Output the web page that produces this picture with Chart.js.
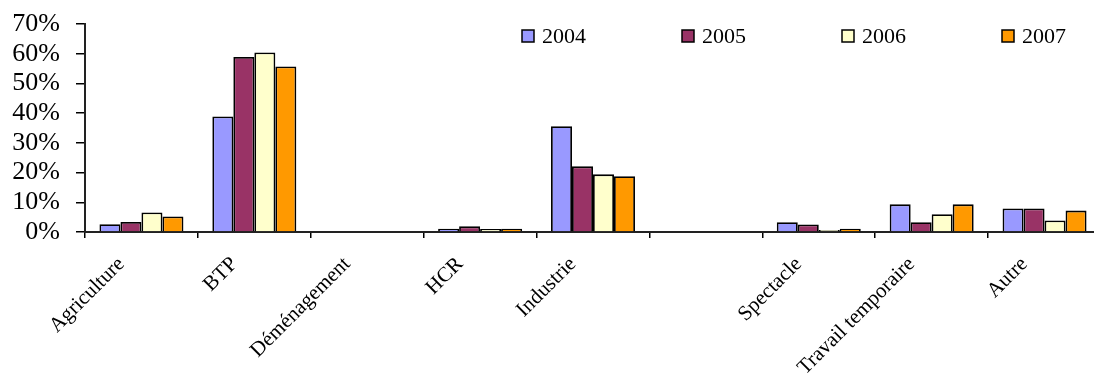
<!DOCTYPE html>
<html>
<head>
<meta charset="utf-8">
<script src="https://cdn.jsdelivr.net/npm/chart.js@4"></script>
<style>
  html, body { margin: 0; padding: 0; background: #fff; overflow: hidden; }
  /* le graphique original est coupé à droite : la zone dépasse la fenêtre */
  .wrap { width: 1101px; height: 378px; }
</style>
</head>
<body>
<div class="wrap"><canvas id="myChart"></canvas></div>
<script>
'use strict';
// catégories (la 6e n'a pas de libellé)
const categories = ['Agriculture', 'BTP', 'Déménagement', 'HCR', 'Industrie', '', 'Spectacle', 'Travail temporaire', 'Autre'];
// années
const years = ['2004', '2005', '2006', '2007'];
// parts en %
const v2004 = [2.6, 38.9, 0, 1.1, 35.6, 0, 3.3, 9.3, 7.9];
const v2005 = [3.4, 58.9, 0, 1.9, 22.1, 0, 2.5, 3.3, 7.9];
const v2006 = [6.6, 60.4, 0, 1.0, 19.4, 0, 0.7, 6.0, 3.9];
const v2007 = [5.2, 55.7, 0, 1.1, 18.8, 0, 1.1, 9.3, 7.2];
// graduations de l'axe Y
const yTicks = [0, 10, 20, 30, 40, 50, 60, 70];

const colors = ['#9999FF', '#993366', '#FFFFCC', '#FF9900'];
const font = 'Liberation Serif';

// légende dessinée à la main, en haut à droite de la zone du graphique
const legendPlugin = {
  id: 'excelLegend',
  afterDraw(chart) {
    const ctx = chart.ctx;
    ctx.save();
    ctx.font = '22px "' + font + '"';
    ctx.textBaseline = 'middle';
    ctx.textAlign = 'left';
    chart.data.datasets.forEach((ds, i) => {
      const x = 522 + i * 160;
      const y = 36;
      ctx.fillStyle = ds.backgroundColor;
      ctx.fillRect(x, y - 6, 12, 12);
      ctx.lineWidth = 1.5;
      ctx.strokeStyle = '#000';
      ctx.strokeRect(x, y - 6, 12, 12);
      ctx.fillStyle = '#000';
      ctx.fillText(ds.label, x + 20, y + 1);
    });
    ctx.restore();
  }
};

const drawChart = () => {
  const ctx = document.getElementById('myChart').getContext('2d');
  const series = [v2004, v2005, v2006, v2007];

  new Chart(ctx, {
    type: 'bar',
    data: {
      labels: categories,
      datasets: years.map((y, i) => ({
        label: y,
        data: series[i],
        backgroundColor: colors[i],
        borderColor: '#000',
        borderWidth: 1.8,
        categoryPercentage: 0.744,
        barPercentage: 1
      }))
    },
    options: {
      responsive: true,
      maintainAspectRatio: false,
      animation: false,
      layout: {
        padding: { top: 24, right: 0, left: 0, bottom: 0 }
      },
      plugins: {
        legend: { display: false },
        tooltip: { enabled: false }
      },
      scales: {
        x: {
          grid: {
            offset: true,
            drawOnChartArea: false,
            drawTicks: true,
            tickLength: 6,
            color: '#000',
            lineWidth: 1.5
          },
          border: { color: '#222', width: 2 },
          ticks: {
            autoSkip: false,
            maxRotation: 45,
            minRotation: 45,
            labelOffset: -20,
            padding: 14,
            color: '#000',
            font: { family: font, size: 21 }
          },
          afterFit(scale) { scale.height = 146; }
        },
        y: {
          min: 0,
          max: 70,
          afterBuildTicks(scale) {
            scale.ticks = yTicks.map(v => ({ value: v }));
          },
          grid: {
            drawOnChartArea: false,
            drawTicks: true,
            tickLength: 9,
            color: '#000',
            lineWidth: 1.5
          },
          border: { color: '#222', width: 2 },
          ticks: {
            autoSkip: false,
            padding: 16,
            color: '#000',
            font: { family: font, size: 26 },
            callback: v => v + '%'
          },
          // largeur fixe, et pas de marge en plus pour le libellé du haut
          afterFit(scale) {
            scale.width = 85;
            scale.paddingTop = 0;
            scale.paddingBottom = 0;
          }
        }
      }
    },
    plugins: [legendPlugin]
  });
};
drawChart();
</script>
</body>
</html>
